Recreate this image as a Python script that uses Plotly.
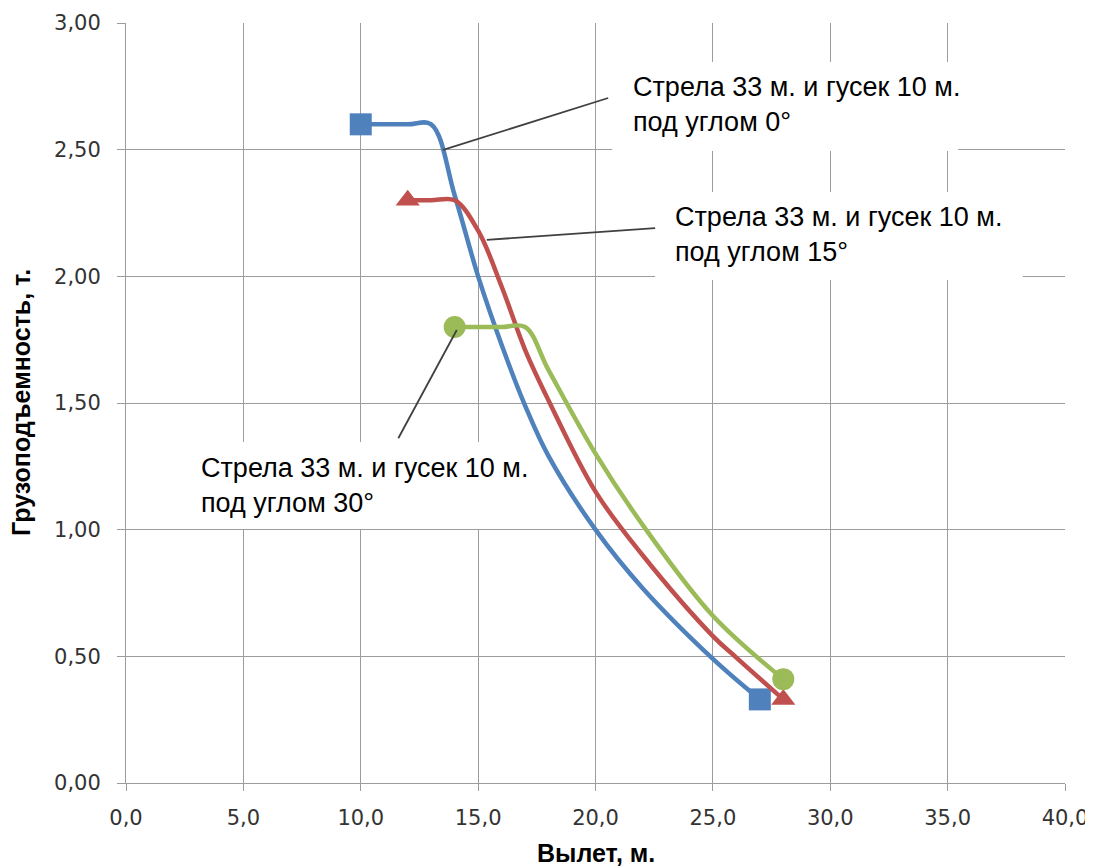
import plotly.graph_objects as go

# ---- data ----
radius_0 = [10, 12, 13, 14, 15, 16, 17, 18, 20, 22, 25, 27]
load_0 = [2.6, 2.6, 2.6, 2.32, 2.0, 1.73, 1.49, 1.29, 1.0, 0.77, 0.49, 0.33]

radius_15 = [12, 13, 14, 15, 16, 17, 18, 20, 22, 25, 26, 28]
load_15 = [2.3, 2.3, 2.3, 2.18, 1.96, 1.71, 1.51, 1.15, 0.9, 0.58, 0.495, 0.33]

radius_30 = [14, 16, 17, 18, 20, 22, 25, 28]
load_30 = [1.8, 1.8, 1.8, 1.63, 1.3, 1.02, 0.66, 0.41]

labels = [
    "Стрела 33 м. и гусек 10 м.<br>под углом 0°",
    "Стрела 33 м. и гусек 10 м.<br>под углом 15°",
    "Стрела 33 м. и гусек 10 м.<br>под углом 30°",
]

x_title = "Вылет, м."
y_title = "Грузоподъемность, т."

# ---- styling ----
colors = ["#4F81BD", "#C0504D", "#9BBB59"]
symbols = ["square", "triangle-up", "circle"]
msizes = [22, 21, 22]
grid = "#9C9C9C"
tick_font = dict(family="DejaVu Sans", size=21, color="#333333")
title_font = dict(family="Liberation Sans", size=25, color="#000000")

fig = go.Figure()
for xs, ys, c, s, ms in zip([radius_0, radius_15, radius_30],
                            [load_0, load_15, load_30], colors, symbols, msizes):
    sizes = [ms] + [0] * (len(xs) - 2) + [ms]
    fig.add_trace(go.Scatter(
        x=xs, y=ys, mode="lines+markers",
        line=dict(color=c, width=4.5, shape="spline", smoothing=1),
        marker=dict(symbol=s, size=sizes, color=c, opacity=1, line=dict(width=0)),
        showlegend=False, hoverinfo="skip"))

# white label boxes (cover gridlines, below traces)
boxes = [
    (20.71, 35.45, 2.495, 2.846),
    (22.54, 38.2, 1.986, 2.333),
    (2.43, 17.77, 1.003, 1.346),
]
for x0, x1, y0, y1 in boxes:
    fig.add_shape(type="rect", x0=x0, x1=x1, y0=y0, y1=y1, xref="x", yref="y",
                  fillcolor="white", line=dict(width=0), layer="between")

# leader lines
leaders = [
    (13.51, 2.499, 20.54, 2.704),
    (15.37, 2.144, 22.54, 2.19),
    (14.09, 1.788, 11.60, 1.361),
]
for x0, y0, x1, y1 in leaders:
    fig.add_shape(type="line", x0=x0, y0=y0, x1=x1, y1=y1, xref="x", yref="y",
                  line=dict(color="#404040", width=1.8), layer="above")

text_pos = [(21.5, 2.68), (23.3, 2.165), (3.1, 1.175)]
for (tx, ty), t in zip(text_pos, labels):
    fig.add_annotation(x=tx, y=ty, xref="x", yref="y", text=t, showarrow=False,
                       xanchor="left", yanchor="middle", align="left",
                       font=dict(family="Liberation Sans", size=27, color="#000000"))

# axis titles
fig.add_annotation(x=0.5, y=-0.0921, xref="paper", yref="paper",
                   text="<b>" + x_title + "</b>", showarrow=False,
                   xanchor="center", yanchor="middle", font=title_font)
fig.add_annotation(x=-0.1118, y=0.5, xref="paper", yref="paper",
                   text="<b>" + y_title + "</b>", showarrow=False, textangle=-90,
                   xanchor="center", yanchor="middle", font=title_font)

# the page body adds an 8px offset, so the figure is 8px smaller on each side
fig.update_layout(
    width=1085, height=860,
    margin=dict(l=118, r=28, t=15, b=85),
    paper_bgcolor="white", plot_bgcolor="white",
    separators=", ",
    xaxis=dict(range=[0, 40], dtick=5, tick0=0, tickformat=".1f",
               showgrid=True, gridcolor=grid, gridwidth=1, zeroline=False,
               showline=True, linecolor=grid, linewidth=1,
               ticks="outside", ticklen=7, tickcolor=grid,
               tickfont=tick_font, ticklabelstandoff=9, automargin=False),
    yaxis=dict(range=[0, 3], dtick=0.5, tick0=0, tickformat=".2f",
               showgrid=True, gridcolor=grid, gridwidth=1, zeroline=False,
               showline=True, linecolor=grid, linewidth=1,
               ticks="outside", ticklen=8, tickcolor=grid,
               tickfont=tick_font, ticklabelstandoff=12, automargin=False),
)

fig.write_html("out.html")
